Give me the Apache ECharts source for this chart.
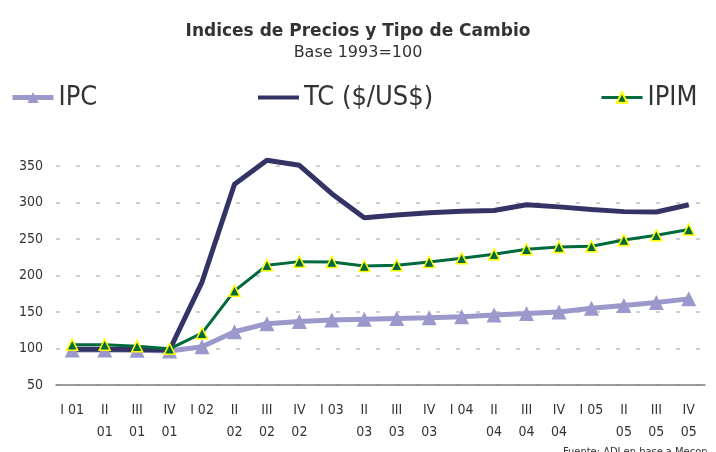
<!DOCTYPE html>
<html>
<head>
<meta charset="utf-8">
<script src="https://cdn.jsdelivr.net/npm/echarts@6/dist/echarts.min.js"></script>
<style>
  html, body { margin: 0; padding: 0; background: #fff; }
  #main { width: 716px; height: 452px; }
</style>
</head>
<body>
<div id="main"></div>
<script>
var FONT = "'DejaVu Sans Condensed', 'DejaVu Sans', sans-serif";
var FONT_WIDE = "'DejaVu Sans', sans-serif";

// trimestres
var categories = [
    'I 01', 'II\n01', 'III\n01', 'IV\n01',
    'I 02', 'II\n02', 'III\n02', 'IV\n02',
    'I 03', 'II\n03', 'III\n03', 'IV\n03',
    'I 04', 'II\n04', 'III\n04', 'IV\n04',
    'I 05', 'II\n05', 'III\n05', 'IV\n05'
];

var ipc = [98, 98, 97.5, 96.5, 102.5, 123, 134, 137, 139, 140, 141, 142, 143.5, 146, 148, 150, 155, 159, 163, 168];
var tc = [99, 99, 98.5, 98, 191, 325, 358, 351, 312, 279, 283, 286, 288, 289, 297, 294, 290.5, 287.5, 287, 297];
var ipim = [105, 105, 103, 99.5, 121, 179, 214, 219, 218.5, 213, 214, 218.5, 223.5, 229, 236, 239, 240, 248.5, 255, 263];

var chartDom = document.getElementById('main');
var myChart = echarts.init(chartDom);
var option;

const legendText = {
    fontSize: 27,
    color: '#333333',
    fontFamily: FONT
};

option = {
    backgroundColor: '#ffffff',
    animation: false,
    title: [
        {
            text: 'Indices de Precios y Tipo de Cambio',
            left: 'center',
            top: 18,
            textStyle: { fontSize: 17, fontWeight: 'bold', color: '#333333', fontFamily: FONT_WIDE }
        },
        {
            text: 'Base 1993=100',
            left: 'center',
            top: 40,
            textStyle: { fontSize: 16, fontWeight: 'normal', color: '#333333', fontFamily: FONT_WIDE }
        },
        {
            text: 'Fuente: ADI en base a Mecon',
            left: 558,
            top: 442,
            textStyle: { fontSize: 11, fontWeight: 'normal', color: '#333333', fontFamily: FONT }
        }
    ],
    legend: [
        {
            data: ['IPC'], left: 5, top: 79, itemWidth: 41, itemHeight: 14,
            lineStyle: { width: 5 },
            textStyle: legendText
        },
        {
            data: [{ name: 'TC ($/US$)', icon: 'rect' }], left: 253, top: 79, itemWidth: 41, itemHeight: 4,
            textStyle: legendText
        },
        {
            data: ['IPIM'], left: 595, top: 79, itemWidth: 41, itemHeight: 13,
            lineStyle: { width: 3 },
            textStyle: legendText
        }
    ],
    grid: {
        left: 56,
        right: 11,
        top: 166,
        bottom: 67,
        outerBoundsMode: 'none'
    },
    xAxis: {
        type: 'category',
        data: categories,
        boundaryGap: true,
        axisLine: { lineStyle: { color: '#808080', width: 1.5 } },
        axisTick: { show: false },
        axisLabel: {
            interval: 0,
            margin: 14,
            fontSize: 14,
            lineHeight: 22,
            color: '#333333',
            fontFamily: FONT
        }
    },
    yAxis: {
        type: 'value',
        min: 50,
        max: 350,
        interval: 50,
        axisLine: { show: false },
        axisTick: { show: false },
        axisLabel: {
            margin: 13,
            fontSize: 14,
            color: '#333333',
            fontFamily: FONT
        },
        splitLine: {
            lineStyle: {
                color: '#c4c0c0',
                width: 1.5,
                type: [4, 16]
            }
        }
    },
    series: [
        {
            name: 'IPC',
            type: 'line',
            data: ipc,
            clip: false,
            symbol: 'triangle',
            symbolSize: 15,
            lineStyle: { color: '#9b98cb', width: 5 },
            itemStyle: { color: '#9b98cb', borderWidth: 0 }
        },
        {
            name: 'TC ($/US$)',
            type: 'line',
            data: tc,
            clip: false,
            symbol: 'none',
            lineStyle: { color: '#333366', width: 5 },
            itemStyle: { color: '#333366' }
        },
        {
            name: 'IPIM',
            type: 'line',
            data: ipim,
            clip: false,
            symbol: 'triangle',
            symbolSize: 11,
            lineStyle: { color: '#006a3d', width: 3 },
            itemStyle: { color: '#006a3d', borderColor: '#ffff00', borderWidth: 1.5 }
        }
    ]
};

option && myChart.setOption(option);
</script>
</body>
</html>
